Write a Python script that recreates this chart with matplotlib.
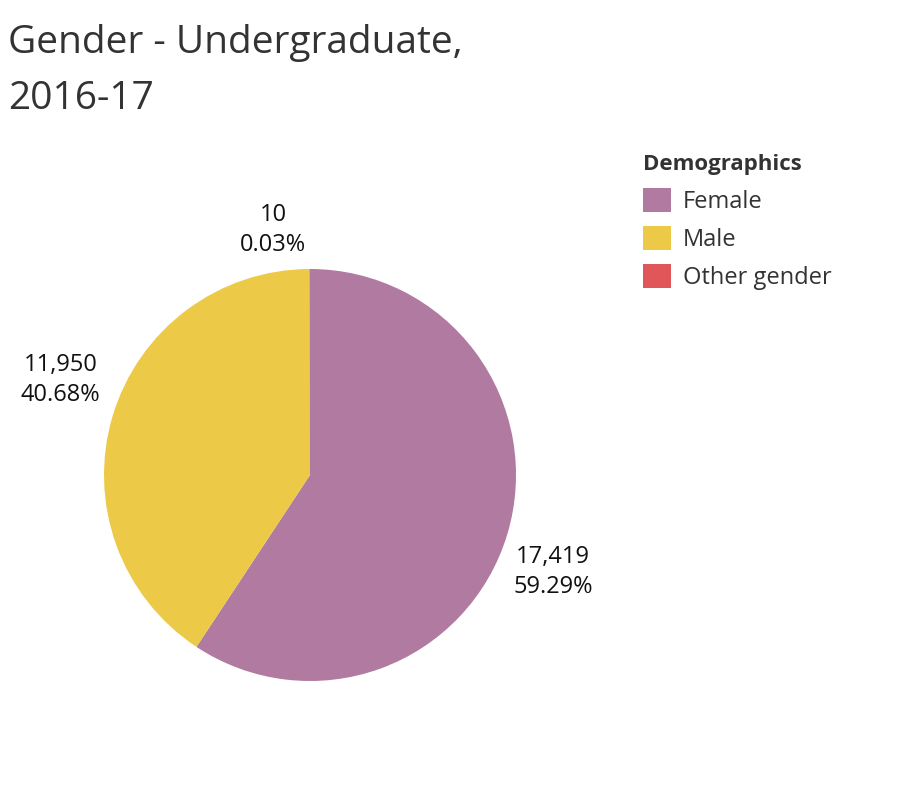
import matplotlib.pyplot as plt
from matplotlib.patches import Patch

plt.rcParams['font.family'] = ['Open Sans', 'DejaVu Sans']

# data
genders = ['Female', 'Male', 'Other gender']
counts = [17419, 11950, 10]
shares = [59.29, 40.68, 0.03]
colors = ['#B07AA1', '#EDC948', '#E15759']
# label positions (relative to pie radius)
label_pos = [(1.18, -0.47), (-1.21, 0.46), (-0.18, 1.19)]

fig = plt.figure(figsize=(9.2, 8.08), dpi=100)
W, H = 920, 808
cx, cy, r = 310, 475, 206
ax = fig.add_axes([(cx - r) / W, (H - cy - r) / H, 2 * r / W, 2 * r / H])

ax.pie(counts, colors=colors, startangle=90, counterclock=False,
       radius=1, wedgeprops=dict(linewidth=0))
ax.set_xlim(-1, 1)
ax.set_ylim(-1, 1)
ax.set_aspect('equal')
ax.axis('off')

for c, s, (x, y) in zip(counts, shares, label_pos):
    ax.text(x, y, f'{c:,}\n{s:.2f}%', ha='center', va='center',
            fontsize=17, color='#111111', linespacing=1.33, clip_on=False)

fig.text(8 / W, 1 - 24 / H, 'Gender - Undergraduate,\n2016-17', ha='left', va='top',
         fontsize=28, color='#333333', linespacing=1.63)

handles = [Patch(facecolor=c, edgecolor='none') for c in colors]
leg = fig.legend(handles, genders, loc='upper left',
                 bbox_to_anchor=(622 / W, 1 - 133 / H), frameon=False,
                 title='Demographics', alignment='left', fontsize=17,
                 title_fontproperties={'weight': 'bold', 'size': 16},
                 handlelength=1.19, handleheight=1.19, labelspacing=0.52,
                 handletextpad=0.5)
for t in leg.get_texts():
    t.set_color('#333333')
leg.get_title().set_color('#333333')

fig.savefig('out.png', dpi=100)
